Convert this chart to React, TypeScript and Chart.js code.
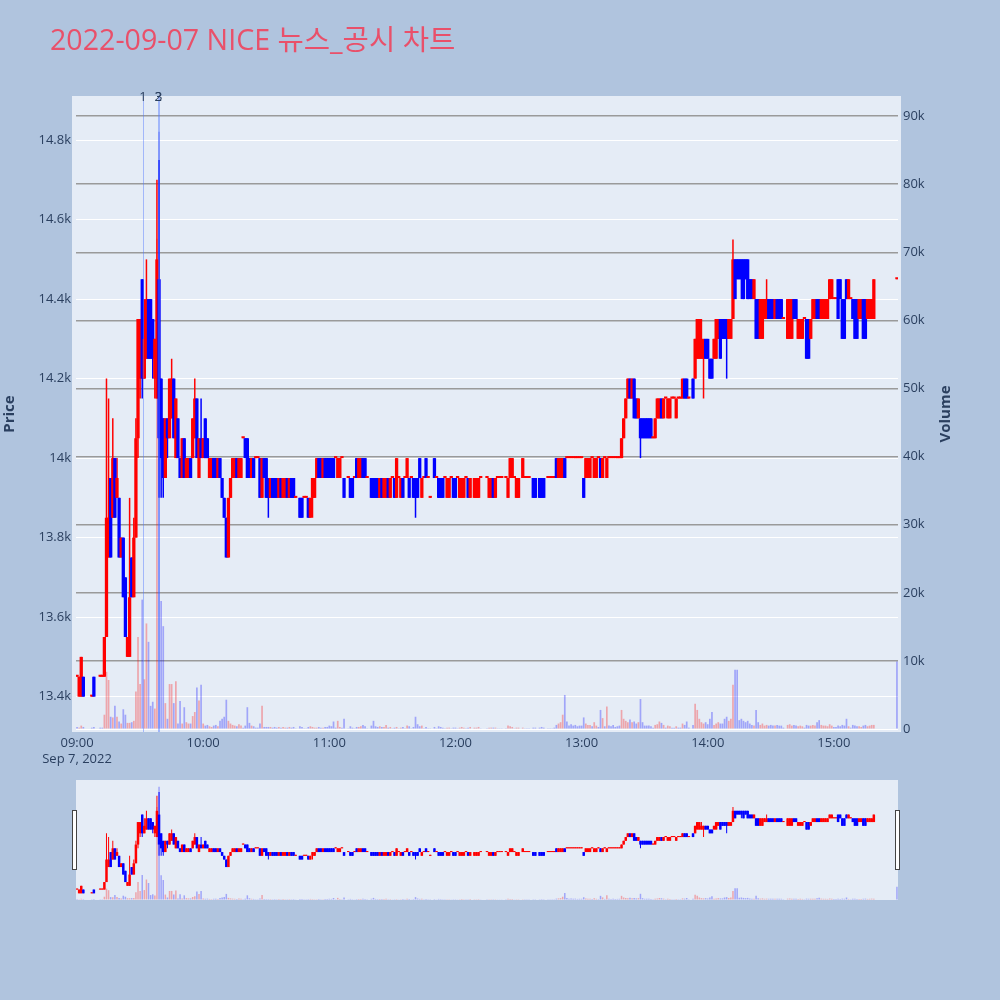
import React, { useEffect, useRef } from "react";
import { Chart, registerables } from "chart.js";

Chart.register(...registerables);

const N = null;

// one entry per minute from 09:00 (index = minutes after 09:00), null = no trade
const opens = [
  13450,13400,13400,13450,N,N,N,13400,13450,N,
  N,13450,13450,13450,13550,13750,13950,13850,14000,13900,
  13900,13750,13800,13700,13500,13500,13750,13650,13800,14050,
  14200,14450,14200,14250,14400,14400,14350,14200,14150,14450,
  14200,14100,13950,14100,14050,14100,14200,14000,14100,14000,
  13950,14050,13950,13950,14000,14000,14050,14150,13950,14050,
  14000,14100,14050,13950,13950,14000,14000,13950,14000,13950,
  13900,13850,13750,13900,13950,13950,14000,13950,13950,14050,
  14050,14050,14000,13950,14000,14000,14000,14000,13900,14000,
  14000,13950,13900,13950,13950,13950,13900,13950,13900,13900,
  13950,13900,13950,13950,13900,N,13900,13900,13900,13900,
  13900,13850,13900,13900,13950,14000,14000,13950,14000,14000,
  14000,14000,14000,14000,13950,13950,14000,13950,N,13950,
  13950,13950,13950,14000,13950,13950,14000,14000,13950,N,
  13950,13950,13950,13950,13900,13950,13900,13900,13950,13900,
  13950,13950,13900,13950,13900,13950,13950,13950,13950,13950,
  13950,13950,13950,14000,13900,13950,14000,13950,13900,N,
  14000,13950,13950,13950,13950,13950,13900,13900,13950,13950,
  13950,13950,13900,13900,13900,13950,13950,13900,N,13900,
  13900,13900,13950,N,N,13950,13900,13900,13950,13900,
  13950,13950,13950,N,13950,13900,13950,13950,13950,13900,
  13900,N,13950,13950,13950,13950,N,13950,13950,N,
  13950,13950,13950,N,13950,13950,13950,13950,14000,13950,
  13950,13950,14000,14000,14000,14000,14000,14000,14000,14000,
  14000,13950,13950,13950,13950,14000,13950,13950,14000,14000,
  13950,14000,13950,14000,14000,14000,14000,14000,14000,14000,
  14050,14100,14150,14200,14150,14200,14150,14100,14100,14100,
  14100,14100,14100,14100,14050,14050,14100,14100,14150,14100,
  14150,14100,14100,14150,14150,14100,14150,14150,14150,14200,
  14200,14150,N,14200,14200,14250,14250,14250,14250,14300,
  14300,14250,14250,14250,14250,14300,14350,14350,14350,14350,
  14300,14300,14350,14500,14500,14500,14500,14500,14500,14500,
  14450,14450,14400,14400,14400,14300,14300,14350,14350,14400,
  14400,14400,14350,14400,14400,14400,14350,N,14300,14300,
  14300,14400,14400,14300,14300,14300,14350,14350,14350,14300,
  14350,14350,14400,14400,14350,14350,14350,14350,14400,14400,
  14400,14400,14450,14450,14400,14400,14450,14400,14400,14400,
  14400,14400,14350,14350,14400,14400,14350,14350,14350,14350,
  N,N,N,N,N,N,N,N,N,N,
  14450,
];

const closes = [
  13450,13450,13500,13400,N,N,N,13400,13400,N,
  N,13450,13450,13550,13850,13850,13750,14000,13850,13950,
  13750,13800,13650,13550,13550,13650,13650,13800,14050,14350,
  14350,14200,14300,14400,14250,14250,14250,14300,14500,14050,
  14000,13950,14100,14050,14200,14200,14050,14150,14000,13950,
  14050,13950,14000,14000,13950,14100,14150,14000,14050,14000,
  14050,14000,14000,14000,14000,13950,13950,14000,13950,13900,
  13850,13750,13900,13950,14000,14000,13950,14000,14000,14050,
  14000,13950,13950,14000,13950,14000,14000,13900,14000,13950,
  13900,13900,13950,13900,13900,13900,13950,13900,13950,13950,
  13900,13950,13900,13900,13900,N,13850,13850,13900,13900,
  13850,13900,13950,13950,14000,13950,13950,14000,13950,13950,
  13950,13950,13950,14000,14000,14000,14000,13900,N,13950,
  13900,13900,13950,13950,14000,14000,13950,13950,13950,N,
  13900,13900,13900,13900,13950,13900,13950,13950,13900,13950,
  13950,13900,14000,13950,13950,13900,13950,14000,13900,13950,
  13900,13900,13900,13950,13950,13950,13950,13950,13900,N,
  13950,13950,13900,13900,13900,13950,13950,13950,13950,13900,
  13900,13950,13950,13950,13950,13950,13900,13950,N,13950,
  13950,13950,13950,N,N,13950,13950,13950,13900,13950,
  13950,13950,13950,N,13950,13950,14000,14000,13950,13950,
  13950,N,14000,13950,13950,13950,N,13900,13900,N,
  13900,13900,13900,N,13950,13950,13950,13950,13950,14000,
  14000,14000,13950,14000,14000,14000,14000,14000,14000,14000,
  14000,13900,14000,14000,14000,14000,14000,14000,14000,13950,
  14000,14000,14000,14000,14000,14000,14000,14000,14000,14050,
  14100,14150,14200,14150,14200,14100,14100,14150,14050,14050,
  14050,14050,14050,14050,14050,14100,14150,14150,14100,14150,
  14150,14150,14150,14150,14150,14150,14150,14150,14200,14150,
  14150,14150,N,14150,14300,14350,14350,14300,14300,14250,
  14250,14200,14200,14300,14350,14350,14250,14300,14300,14300,
  14350,14350,14500,14400,14450,14450,14450,14400,14450,14400,
  14400,14400,14450,14300,14300,14400,14400,14400,14400,14350,
  14350,14350,14400,14350,14350,14350,14350,N,14400,14400,
  14400,14350,14350,14350,14350,14350,14350,14250,14250,14350,
  14400,14400,14350,14350,14400,14400,14400,14400,14450,14450,
  14400,14400,14350,14400,14300,14300,14400,14450,14400,14350,
  14300,14300,14400,14400,14300,14300,14400,14400,14400,14450,
  N,N,N,N,N,N,N,N,N,N,
  14450,
];

const highs = [
  13450,13450,13500,13450,N,N,N,13400,13450,N,
  N,13450,13450,13550,14200,14150,13950,14100,14000,14000,
  13900,13800,13800,13700,13550,13900,13750,13850,14100,14350,
  14350,14450,14400,14500,14400,14400,14350,14300,14700,14750,
  14200,14100,14100,14100,14200,14250,14200,14150,14100,14000,
  14050,14050,14000,14000,14000,14100,14200,14150,14050,14150,
  14050,14100,14050,14000,14000,14000,14000,14000,14000,13950,
  13900,13850,13900,13950,14000,14000,14000,14000,14000,14050,
  14050,14050,14000,14000,14000,14000,14000,14000,14000,14000,
  14000,13950,13950,13950,13950,13950,13950,13950,13950,13950,
  13950,13950,13950,13950,13900,N,13900,13900,13900,13900,
  13900,13900,13950,13950,14000,14000,14000,14000,14000,14000,
  14000,14000,14000,14000,14000,14000,14000,13950,N,13950,
  13950,13950,13950,14000,14000,14000,14000,14000,13950,N,
  13950,13950,13950,13950,13950,13950,13950,13950,13950,13950,
  13950,13950,14000,13950,13950,13950,13950,14000,13950,13950,
  13950,13950,13950,14000,13950,13950,14000,13950,13900,N,
  14000,13950,13950,13950,13950,13950,13950,13950,13950,13950,
  13950,13950,13950,13950,13950,13950,13950,13950,N,13950,
  13950,13950,13950,N,N,13950,13950,13950,13950,13950,
  13950,13950,13950,N,13950,13950,14000,14000,13950,13950,
  13950,N,14000,13950,13950,13950,N,13950,13950,N,
  13950,13950,13950,N,13950,13950,13950,13950,14000,14000,
  14000,14000,14000,14000,14000,14000,14000,14000,14000,14000,
  14000,13950,14000,14000,14000,14000,14000,14000,14000,14000,
  14000,14000,14000,14000,14000,14000,14000,14000,14000,14050,
  14100,14150,14200,14200,14200,14200,14150,14150,14100,14100,
  14100,14100,14100,14100,14050,14100,14150,14150,14150,14150,
  14150,14150,14150,14150,14150,14150,14150,14150,14200,14200,
  14200,14150,N,14200,14300,14350,14350,14350,14300,14300,
  14300,14250,14250,14300,14350,14350,14350,14350,14350,14350,
  14350,14350,14550,14500,14500,14500,14500,14500,14500,14500,
  14450,14450,14450,14400,14400,14400,14400,14400,14450,14400,
  14400,14400,14400,14400,14400,14400,14350,N,14400,14400,
  14400,14400,14400,14350,14350,14350,14350,14350,14350,14350,
  14400,14400,14400,14400,14400,14400,14400,14400,14450,14450,
  14400,14400,14450,14450,14400,14400,14450,14450,14400,14400,
  14400,14400,14400,14400,14400,14400,14400,14400,14400,14450,
  N,N,N,N,N,N,N,N,N,N,
  14450,
];

const lows = [
  13450,13400,13400,13400,N,N,N,13400,13400,N,
  N,13450,13450,13450,13550,13750,13750,13850,13850,13900,
  13750,13750,13650,13550,13500,13500,13650,13650,13800,14000,
  14150,14150,14200,14250,14250,14250,14200,14150,14150,13900,
  13900,13900,13950,14000,14050,14100,14050,14000,14000,13950,
  13950,13950,13950,13950,13950,14000,14050,14000,13950,14000,
  14000,14000,14000,13950,13950,13950,13950,13950,13950,13900,
  13850,13750,13750,13900,13950,13950,13950,13950,13950,14050,
  14000,13950,13950,13950,13950,14000,14000,13900,13900,13950,
  13900,13850,13900,13900,13900,13900,13900,13900,13900,13900,
  13900,13900,13900,13900,13900,N,13850,13850,13900,13900,
  13850,13850,13850,13900,13950,13950,13950,13950,13950,13950,
  13950,13950,13950,14000,13950,13950,14000,13900,N,13950,
  13900,13900,13950,13950,13950,13950,13950,13950,13950,N,
  13900,13900,13900,13900,13900,13900,13900,13900,13900,13900,
  13950,13900,13900,13950,13900,13900,13950,13950,13900,13950,
  13900,13850,13900,13950,13900,13950,13950,13950,13900,N,
  13950,13950,13900,13900,13900,13950,13900,13900,13950,13900,
  13900,13950,13900,13900,13900,13950,13900,13900,N,13900,
  13900,13900,13950,N,N,13950,13900,13900,13900,13900,
  13950,13950,13950,N,13950,13900,13950,13950,13950,13900,
  13900,N,13950,13950,13950,13950,N,13900,13900,N,
  13900,13900,13900,N,13950,13950,13950,13950,13950,13950,
  13950,13950,13950,14000,14000,14000,14000,14000,14000,14000,
  14000,13900,13950,13950,13950,14000,13950,13950,14000,13950,
  13950,14000,13950,14000,14000,14000,14000,14000,14000,14000,
  14050,14100,14150,14150,14150,14100,14100,14100,14000,14050,
  14050,14050,14050,14050,14050,14050,14100,14100,14100,14100,
  14150,14100,14100,14150,14150,14100,14150,14150,14150,14150,
  14150,14150,N,14150,14200,14250,14250,14250,14150,14250,
  14250,14200,14200,14250,14250,14300,14250,14300,14300,14200,
  14300,14300,14350,14400,14450,14450,14400,14400,14450,14400,
  14400,14400,14400,14300,14300,14300,14300,14350,14350,14350,
  14350,14350,14350,14350,14350,14350,14350,N,14300,14300,
  14300,14350,14350,14300,14300,14300,14350,14250,14250,14300,
  14350,14350,14350,14350,14350,14350,14350,14350,14400,14400,
  14400,14400,14350,14400,14300,14300,14400,14400,14400,14350,
  14300,14300,14350,14350,14300,14300,14350,14350,14350,14350,
  N,N,N,N,N,N,N,N,N,N,
  14450,
];

const volumes = [
  300,200,500,300,N,N,N,200,300,N,
  N,200,200,2100,8400,7200,1800,1700,3400,1800,
  1100,800,2900,2100,900,900,1000,1200,5500,13500,
  6600,19000,7300,15500,12800,3400,4000,3000,72000,87700,
  18800,15100,3800,1500,6600,6600,3800,7000,800,4100,
  800,3200,1000,800,800,1900,2500,6100,4200,6500,
  800,500,600,400,300,500,600,400,1200,1500,
  1800,4300,1200,800,600,500,400,700,500,200,
  500,3200,900,500,400,200,200,800,3400,300,
  300,300,300,200,300,200,300,200,300,200,
  200,300,200,300,100,N,400,300,100,100,
  300,400,300,200,200,300,200,200,300,300,
  500,400,1100,200,1200,300,200,1500,N,100,
  400,200,100,300,300,400,600,400,100,N,
  500,1200,400,300,400,300,300,600,200,300,
  100,200,300,100,200,300,100,500,400,100,
  300,1800,700,400,500,100,300,100,100,N,
  300,100,400,300,200,100,200,200,100,200,
  200,100,200,300,200,100,200,300,N,200,
  200,300,100,N,N,100,200,200,200,200,
  100,100,100,N,100,500,400,300,100,200,
  200,N,200,100,100,100,N,200,200,N,
  200,300,200,N,100,100,100,200,600,800,
  1000,2100,5000,1100,500,700,500,600,400,500,
  500,1700,800,600,600,400,1000,500,300,2800,
  1600,400,3300,500,400,600,300,400,500,2800,
  1500,1200,1000,1400,1000,1100,800,1000,4400,1000,
  500,500,500,400,200,600,700,1100,900,600,
  200,500,400,200,200,400,200,200,800,600,
  1100,200,N,600,3700,2800,1500,1000,800,1000,
  700,1500,2500,600,800,1000,800,800,1500,1800,
  1200,1500,6500,8700,8700,1300,1500,1200,1000,1200,
  800,600,500,2800,1000,600,800,500,600,500,
  600,500,500,600,500,500,200,N,600,700,
  500,600,500,400,500,400,200,600,500,500,
  600,500,1000,1300,600,500,500,400,700,500,
  300,300,500,400,600,500,1500,400,200,600,
  500,400,400,300,500,600,400,500,600,600,
  N,N,N,N,N,N,N,N,N,N,
  9900,
];

const priceTicks = [13400, 13600, 13800, 14000, 14200, 14400, 14600, 14800];
const volumeTicks = [0, 10000, 20000, 30000, 40000, 50000, 60000, 70000, 80000, 90000];
const hourTicks = [0, 60, 120, 180, 240, 300, 360];
const hourLabels = ["09:00", "10:00", "11:00", "12:00", "13:00", "14:00", "15:00"];
const dateLabel = "Sep 7, 2022";
const newsTimes = [31.4, 38.6, 38.8];
const newsLabels = ["1", "2", "3"];
const titleText = "2022-09-07 NICE 뉴스_공시 차트";

const PRICE_MIN = 13311;
const PRICE_MAX = 14911;
const VOL_MIN = -440;
const VOL_MAX = 92950;
const X_MIN = -0.5;
const X_MAX = 390.5;

const FONT = "'Open Sans', 'Noto Sans CJK KR', sans-serif";
const TEXT_COLOR = "#2a3f5f";
const UP = "#ff0000";
const DOWN = "#0000ff";
const UP_VOL = "rgba(255,0,0,0.3)";
const DOWN_VOL = "rgba(0,0,255,0.3)";
const PLOT_BG = "#e5ecf6";

function buildDatasets(wickW: number, bodyW: number, volW: number, minBody: number) {
  const wick: any[] = [], body: any[] = [], vol: any[] = [];
  const wc: string[] = [], bc: string[] = [], vc: string[] = [];
  for (let i = 0; i < opens.length; i++) {
    const o = opens[i];
    const c = closes[i];
    if (o == null || c == null) continue;
    const h = highs[i] as number;
    const l = lows[i] as number;
    const v = volumes[i] as number;
    const col = c >= o ? UP : DOWN;
    wick.push({ x: i, y: [Math.min(l, o, c), Math.max(h, o, c)] });
    wc.push(col);
    body.push({ x: i, y: [o, c] });
    bc.push(col);
    vol.push({ x: i, y: v });
    vc.push(c > o ? UP_VOL : DOWN_VOL);
  }
  const common = { grouped: false, inflateAmount: 0, borderWidth: 0, xAxisID: "x" };
  return [
    { ...common, type: "bar", data: body, backgroundColor: bc, barThickness: bodyW, minBarLength: minBody, yAxisID: "y", order: 1 },
    { ...common, type: "bar", data: wick, backgroundColor: wc, barThickness: wickW, minBarLength: 1, yAxisID: "y", order: 2 },
    { ...common, type: "bar", data: vol, backgroundColor: vc, barThickness: volW, yAxisID: "y2", order: 3 },
  ];
}

const setTicks = (vals: number[]) => (scale: any) => {
  scale.ticks = vals.map((v) => ({ value: v }));
};

const mainBg = {
  id: "mainBg",
  beforeDraw(chart: any) {
    const { ctx, chartArea: a } = chart;
    ctx.save();
    ctx.fillStyle = PLOT_BG;
    ctx.fillRect(a.left - 4, a.top, a.right - a.left + 7, a.bottom - a.top);
    ctx.restore();
  },
};

const mainOverlay = {
  id: "mainOverlay",
  afterDatasetsDraw(chart: any) {
    const { ctx, chartArea: a, scales } = chart;
    ctx.save();
    ctx.strokeStyle = "rgba(80,120,255,0.45)";
    ctx.lineWidth = 1;
    newsTimes.forEach((t) => {
      const px = Math.round(scales.x.getPixelForValue(t)) + 0.5;
      ctx.beginPath();
      ctx.moveTo(px, a.top);
      ctx.lineTo(px, a.bottom);
      ctx.stroke();
    });
    ctx.restore();
  },
  afterDraw(chart: any) {
    const { ctx, chartArea: a, scales } = chart;
    ctx.save();
    // title
    ctx.font = `28.6px ${FONT}`;
    ctx.fillStyle = "#e9506a";
    ctx.textAlign = "left";
    ctx.textBaseline = "alphabetic";
    ctx.fillText(titleText, 50, 50);
    // news labels
    ctx.font = `13px ${FONT}`;
    ctx.fillStyle = TEXT_COLOR;
    ctx.textAlign = "center";
    ctx.textBaseline = "middle";
    newsTimes.forEach((t, i) => {
      ctx.fillText(newsLabels[i], scales.x.getPixelForValue(t), a.top + 1);
    });
    // axis titles
    ctx.font = `bold 15px ${FONT}`;
    const midY = (a.top + a.bottom) / 2;
    ctx.save();
    ctx.translate(10, midY);
    ctx.rotate(-Math.PI / 2);
    ctx.fillText("Price", 0, 0);
    ctx.restore();
    ctx.save();
    ctx.translate(946, midY);
    ctx.rotate(-Math.PI / 2);
    ctx.fillText("Volume", 0, 0);
    ctx.restore();
    ctx.restore();
  },
};

const sliderPlugin = {
  id: "sliderPlugin",
  beforeDraw(chart: any) {
    const { ctx, chartArea: a } = chart;
    ctx.save();
    ctx.fillStyle = PLOT_BG;
    ctx.fillRect(a.left, a.top, a.right - a.left, a.bottom - a.top);
    ctx.restore();
  },
  afterDraw(chart: any) {
    const { ctx, chartArea: a } = chart;
    ctx.save();
    ctx.fillStyle = "#ffffff";
    ctx.strokeStyle = "#444444";
    ctx.lineWidth = 1;
    const hTop = a.top + 30.5;
    const hH = 59;
    [a.left - 3.5, a.right - 2.5].forEach((x) => {
      ctx.fillRect(x, hTop, 4, hH);
      ctx.strokeRect(x, hTop, 4, hH);
    });
    ctx.restore();
  },
};

export default function App() {
  const mainRef = useRef<HTMLCanvasElement | null>(null);
  const sliderRef = useRef<HTMLCanvasElement | null>(null);

  useEffect(() => {
    if (!mainRef.current || !sliderRef.current) return;
    const tickFont = { family: FONT, size: 13 };

    const main = new Chart(mainRef.current, {
      type: "bar",
      data: { datasets: buildDatasets(1.5, 3.3, 1.7, 2) as any },
      options: {
        animation: false,
        responsive: false,
        events: [],
        layout: { padding: { top: 96, left: 0, right: 0, bottom: 0 } },
        plugins: { legend: { display: false }, tooltip: { enabled: false }, title: { display: false } },
        scales: {
          x: {
            type: "linear",
            min: X_MIN,
            max: X_MAX,
            offset: false,
            grid: { display: false, drawTicks: false },
            border: { display: false },
            afterBuildTicks: setTicks(hourTicks),
            afterFit: (s: any) => { s.height = 43; },
            ticks: {
              autoSkip: false,
              maxRotation: 0,
              padding: 3,
              color: TEXT_COLOR,
              font: { family: FONT, size: 13, lineHeight: 1.25 },
              callback: (_v: any, i: number) => (i === 0 ? [hourLabels[0], dateLabel] : hourLabels[i]),
            },
          },
          y: {
            type: "linear",
            position: "left",
            min: PRICE_MIN,
            max: PRICE_MAX,
            grid: { color: "#ffffff", lineWidth: 1, drawTicks: false },
            border: { display: false },
            afterBuildTicks: setTicks(priceTicks),
            afterFit: (s: any) => { s.width = 76; },
            ticks: { padding: 5, color: TEXT_COLOR, font: tickFont, callback: (v: any) => Number(v) / 1000 + "k" },
          },
          y2: {
            type: "linear",
            position: "right",
            min: VOL_MIN,
            max: VOL_MAX,
            grid: {
              color: (c: any) => (c.tick && c.tick.value === 0 ? "#ffffff" : "#9a9a9a"),
              lineWidth: (c: any) => (c.tick && c.tick.value === 0 ? 1 : 1.5),
              drawTicks: false,
            },
            border: { display: false },
            afterBuildTicks: setTicks(volumeTicks),
            afterFit: (s: any) => { s.width = 102; },
            ticks: {
              padding: 5,
              color: TEXT_COLOR,
              font: tickFont,
              callback: (v: any) => (Number(v) === 0 ? "0" : Number(v) / 1000 + "k"),
            },
          },
        },
      } as any,
      plugins: [mainBg, mainOverlay],
    });

    const slider = new Chart(sliderRef.current, {
      type: "bar",
      data: { datasets: buildDatasets(1, 2.5, 1.5, 1) as any },
      options: {
        animation: false,
        responsive: false,
        events: [],
        layout: { padding: { top: 10, left: 76, right: 102, bottom: 10 } },
        plugins: { legend: { display: false }, tooltip: { enabled: false } },
        scales: {
          x: { type: "linear", min: X_MIN, max: X_MAX, offset: false, display: false },
          y: { type: "linear", min: PRICE_MIN, max: PRICE_MAX, display: false },
          y2: { type: "linear", min: VOL_MIN, max: VOL_MAX, display: false },
        },
      } as any,
      plugins: [sliderPlugin],
    });

    return () => {
      main.destroy();
      slider.destroy();
    };
  }, []);

  return (
    <div style={{ position: "absolute", left: 0, top: 0, width: 1000, height: 1000, background: "#b0c4de", overflow: "hidden" }}>
      <canvas ref={mainRef} width={1000} height={775} style={{ position: "absolute", left: 0, top: 0, width: 1000, height: 775 }} />
      <canvas ref={sliderRef} width={1000} height={140} style={{ position: "absolute", left: 0, top: 770, width: 1000, height: 140 }} />
    </div>
  );
}
